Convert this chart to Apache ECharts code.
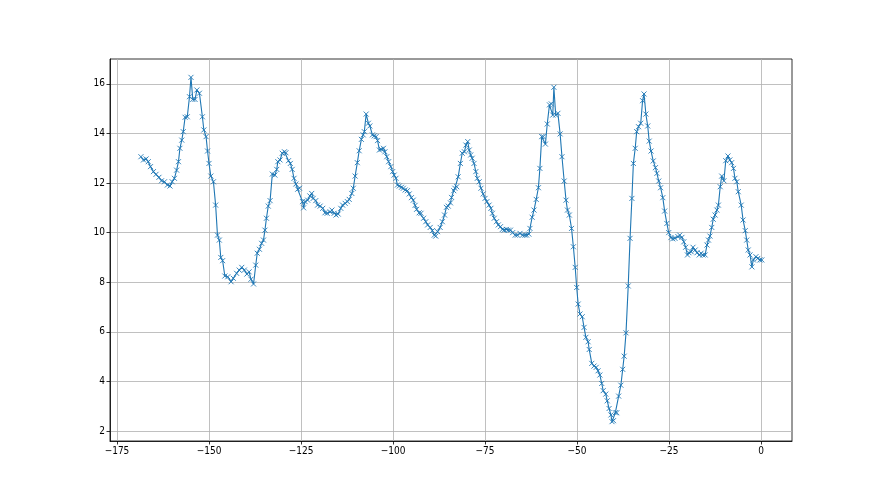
<!DOCTYPE html>
<html>
<head>
<meta charset="utf-8">
<script src="https://cdn.jsdelivr.net/npm/echarts@6/dist/echarts.min.js"></script>
<style>html,body{margin:0;padding:0;background:#fff;}#c{width:880px;height:495px;}</style>
</head>
<body>
<div id="c"></div>
<script>
var xValues = [
-168.5,-167.8,-167.1,-166.5,-165.9,-165.1,-164.4,-163.6,-162.9,-162.1,-161.3,-160.6,-160.0,-159.4,-158.8,-158.3,-157.9,-157.4,-157.0,-156.5,
-155.9,-155.3,-154.9,-154.4,-153.8,-153.3,-152.6,-151.8,-151.4,-150.8,-150.4,-150.0,-149.5,-148.8,-148.2,-147.7,-147.2,-146.8,-146.3,-145.7,
-144.9,-144.0,-143.4,-142.5,-141.8,-141.1,-140.4,-139.7,-139.1,-138.6,-137.9,-137.3,-136.9,-136.3,-135.7,-135.2,-134.8,-134.4,-133.9,-133.4,
-132.8,-132.1,-131.6,-131.3,-130.7,-130.1,-129.5,-129.1,-128.4,-127.9,-127.4,-126.9,-126.4,-125.9,-125.4,-124.6,-124.3,-123.9,-123.2,-122.6,
-122.1,-121.7,-121.0,-120.5,-119.8,-119.1,-118.5,-117.9,-117.1,-116.6,-116.0,-115.5,-114.9,-114.2,-113.7,-113.0,-112.4,-111.9,-111.2,-110.8,
-110.3,-109.7,-109.2,-108.6,-108.1,-107.8,-107.3,-106.7,-106.3,-105.6,-105.1,-104.6,-104.2,-103.7,-103.2,-102.6,-102.2,-101.7,-101.2,-100.6,
-100.1,-99.7,-99.2,-98.8,-98.3,-97.7,-97.2,-96.7,-96.1,-95.6,-95.0,-94.5,-94.0,-93.6,-92.9,-92.4,-91.7,-91.1,-90.6,-89.9,
-89.3,-88.8,-88.4,-87.9,-87.2,-86.6,-86.0,-85.5,-85.0,-84.4,-84.1,-83.5,-83.2,-82.7,-82.3,-81.7,-81.2,-80.6,-80.2,-79.7,
-79.3,-78.9,-78.5,-78.0,-77.5,-77.1,-76.6,-76.1,-75.5,-75.0,-74.5,-73.9,-73.4,-73.0,-72.5,-71.9,-71.4,-70.8,-70.3,-69.8,
-69.2,-68.7,-68.1,-67.5,-66.8,-66.2,-65.5,-64.8,-64.2,-63.7,-63.1,-62.8,-62.2,-61.7,-61.1,-60.5,-60.1,-59.6,-59.2,-58.6,
-58.1,-57.5,-57.0,-56.6,-56.3,-55.8,-55.2,-54.6,-54.1,-53.5,-53.0,-52.6,-52.1,-51.5,-51.0,-50.5,-50.1,-49.7,-49.2,-48.6,
-48.1,-47.6,-47.0,-46.7,-46.0,-45.4,-44.8,-44.3,-43.8,-43.3,-42.9,-42.2,-41.8,-41.3,-40.8,-40.5,-40.1,-39.6,-39.2,-38.7,
-38.1,-37.6,-37.2,-36.7,-36.1,-35.6,-35.1,-34.7,-34.2,-33.8,-33.3,-32.7,-32.2,-31.8,-31.3,-30.8,-30.4,-29.9,-29.3,-28.7,
-28.3,-27.8,-27.3,-26.7,-26.2,-25.6,-25.1,-24.5,-24.0,-23.4,-22.6,-22.1,-21.5,-21.0,-20.5,-20.0,-19.6,-19.0,-18.5,-17.9,
-17.4,-16.8,-16.3,-15.8,-15.2,-14.7,-14.3,-13.9,-13.4,-13.0,-12.5,-12.0,-11.6,-11.1,-10.7,-10.1,-9.6,-9.0,-8.5,-8.0,
-7.5,-7.1,-6.6,-6.2,-5.4,-4.9,-4.3,-3.9,-3.5,-3.0,-2.5,-2.1,-1.4,-0.9,-0.3,0.2
];
var yValues = [
13.06,12.93,12.97,12.86,12.66,12.46,12.35,12.23,12.09,12.05,11.92,11.88,12.05,12.19,12.52,12.86,13.4,13.73,14.07,14.65,
14.67,15.48,16.26,15.37,15.37,15.75,15.62,14.67,14.14,13.87,13.29,12.79,12.28,12.05,11.11,9.9,9.7,9.0,8.87,8.25,
8.22,8.02,8.16,8.36,8.49,8.6,8.49,8.33,8.42,8.12,7.93,8.69,9.17,9.33,9.57,9.7,10.1,10.58,11.07,11.29,
12.36,12.32,12.55,12.86,12.93,13.2,13.26,13.22,12.9,12.79,12.55,12.19,11.96,11.75,11.79,11.25,11.0,11.25,11.31,11.48,
11.58,11.38,11.29,11.11,11.07,10.98,10.8,10.78,10.84,10.91,10.78,10.71,10.75,10.98,11.11,11.18,11.25,11.34,11.58,11.79,
12.28,12.82,13.3,13.76,13.94,14.07,14.78,14.41,14.3,13.94,13.9,13.87,13.71,13.33,13.36,13.4,13.26,13.06,12.86,12.66,
12.46,12.32,12.19,11.92,11.88,11.83,11.79,11.72,11.69,11.56,11.41,11.31,11.1,10.94,10.8,10.78,10.58,10.44,10.31,10.21,
10.08,9.9,9.86,10.04,10.21,10.44,10.71,11.02,11.07,11.2,11.42,11.69,11.79,11.85,12.25,12.79,13.2,13.26,13.53,13.67,
13.33,13.13,13.0,12.79,12.46,12.19,12.05,11.79,11.56,11.38,11.25,11.11,10.98,10.78,10.58,10.44,10.31,10.24,10.13,10.1,
10.13,10.1,10.1,10.0,9.9,9.9,9.97,9.9,9.9,9.9,9.94,10.17,10.62,10.91,11.34,11.81,12.59,13.87,13.87,13.57,
14.38,15.15,15.19,14.74,15.86,14.74,14.81,13.98,13.06,12.08,11.31,10.91,10.71,10.17,9.43,8.6,7.79,7.12,6.72,6.61,
6.18,5.78,5.6,5.29,4.73,4.62,4.57,4.43,4.26,3.92,3.63,3.49,3.22,2.91,2.65,2.38,2.42,2.74,2.74,3.41,
3.85,4.49,5.02,5.96,7.85,9.77,11.38,12.79,13.4,14.07,14.27,14.41,15.32,15.59,14.78,14.3,13.69,13.29,12.89,12.62,
12.39,12.08,11.81,11.41,10.87,10.37,10.0,9.8,9.75,9.77,9.84,9.9,9.81,9.63,9.41,9.1,9.19,9.23,9.41,9.3,
9.19,9.1,9.17,9.1,9.1,9.5,9.7,9.86,10.21,10.54,10.71,10.91,11.11,11.85,12.28,12.09,12.9,13.09,12.93,12.82,
12.59,12.19,12.05,11.65,11.11,10.51,10.08,9.7,9.3,9.1,8.62,8.9,9.03,8.96,8.9,8.9
];
var xTicks = [-175, -150, -125, -100, -75, -50, -25, 0];
var yTicks = [2, 4, 6, 8, 10, 12, 14, 16];

var seriesData = xValues.map(function (x, i) { return [x, yValues[i]]; });
function fmt(v) { return v < 0 ? '\u2212' + Math.abs(v) : String(v); }

var chart = echarts.init(document.getElementById('c'), null, { renderer: 'canvas' });
var axisCommon = {
  axisLine: { show: true, onZero: false, lineStyle: { color: '#000', width: 0.8 } },
  axisTick: { show: true, inside: false, length: 3.5, lineStyle: { color: '#000', width: 0.8 } },
  axisLabel: { color: '#000', fontSize: 10, fontFamily: '"Liberation Sans Narrow", "DejaVu Sans Condensed", "DejaVu Sans"', margin: 5, formatter: fmt },
  splitLine: { show: true, lineStyle: { color: '#b0b0b0', width: 0.8 } }
};
chart.setOption({
  animation: false,
  backgroundColor: '#fff',
  grid: { left: 110, right: 88, top: 59, bottom: 54, show: true, borderColor: '#000', borderWidth: 0.8, containLabel: false },
  xAxis: echarts.util.merge({
    type: 'value', min: -176.9, max: 8.4,
    axisTick: { customValues: xTicks },
    axisLabel: { customValues: xTicks }
  }, axisCommon),
  yAxis: echarts.util.merge({
    type: 'value', min: 1.6, max: 17.0,
    axisTick: { customValues: yTicks },
    axisLabel: { customValues: yTicks }
  }, axisCommon),
  series: [{
    type: 'line',
    data: seriesData,
    showAllSymbol: true,
    symbol: 'path://M0,0L10,10M10,0L0,10',
    symbolSize: 5,
    itemStyle: { color: '#1f77b4', borderColor: '#1f77b4', borderWidth: 0.9 },
    lineStyle: { color: '#1f77b4', width: 1.1 },
    emphasis: { disabled: true }
  }]
});
</script>
</body>
</html>
